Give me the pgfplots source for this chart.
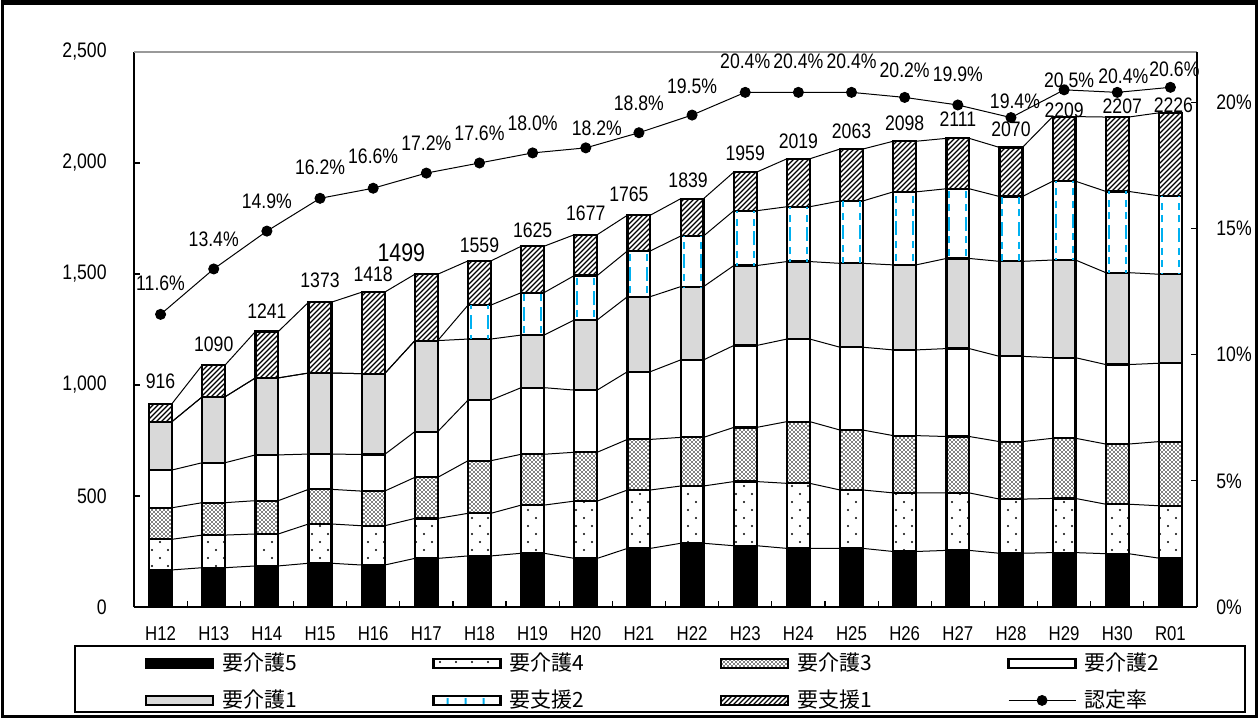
\documentclass[border=0pt]{standalone}
\usepackage{fontspec}
\setmainfont{Liberation Sans}[FakeStretch=0.84]
\newfontfamily\cjk{Noto Sans CJK JP}
\usepackage{pgfplots}
\usepackage{pgfplotstable}
\pgfplotsset{compat=1.18}
\usetikzlibrary{patterns}
\definecolor{skyb}{RGB}{0,176,240}
\definecolor{lgray}{RGB}{217,217,217}

\pgfdeclarepatternformonly{sparsedots}{\pgfpoint{-1pt}{-1pt}}{\pgfpoint{7pt}{7pt}}{\pgfpoint{8pt}{8pt}}{%
  \pgfpathcircle{\pgfpointorigin}{0.55pt}\pgfpathcircle{\pgfpoint{4pt}{4pt}}{0.55pt}\pgfusepath{fill}}
\pgfdeclarepatternformonly{densedots}{\pgfpoint{-0.5pt}{-0.5pt}}{\pgfpoint{1.5pt}{1.5pt}}{\pgfpoint{2pt}{2pt}}{%
  \pgfpathcircle{\pgfpointorigin}{0.46pt}\pgfpathcircle{\pgfpoint{1pt}{1pt}}{0.46pt}\pgfusepath{fill}}
\pgfdeclarepatternformonly{hatch}{\pgfpoint{-0.1pt}{-0.1pt}}{\pgfpoint{2.6pt}{2.6pt}}{\pgfpoint{2.5pt}{2.5pt}}{%
  \pgfsetlinewidth{0.65pt}\pgfpathmoveto{\pgfpoint{-0.1pt}{-0.1pt}}\pgfpathlineto{\pgfpoint{2.6pt}{2.6pt}}\pgfusepath{stroke}}
\pgfdeclarepatterninherentlycolored{vdash}{\pgfpoint{0pt}{0pt}}{\pgfpoint{8.858pt}{7pt}}{\pgfpoint{8.858pt}{7pt}}{%
  \pgfsetfillcolor{skyb}\pgfpathrectangle{\pgfpoint{1.8pt}{0pt}}{\pgfpoint{1pt}{3.6pt}}\pgfusepath{fill}}

\tikzset{
  s5/.style={draw=black, line width=1.1pt, fill=black},
  s4/.style={draw=black, line width=1.1pt, preaction={fill=white}, pattern=sparsedots},
  s3/.style={draw=black, line width=1.1pt, preaction={fill=white}, pattern=densedots},
  s2/.style={draw=black, line width=1.1pt, fill=white},
  s1/.style={draw=black, line width=1.1pt, fill=lgray},
  sS2/.style={draw=black, line width=1.1pt, fill=white},
  sS2leg/.style={draw=black, line width=1.1pt, preaction={fill=white}, pattern=vdash},
  sS1/.style={draw=black, line width=1.1pt, preaction={fill=white}, pattern=hatch},
}
\pgfplotsset{
  leg5/.style={legend image code/.code={\draw[s5] (0pt,1.3pt) rectangle (33.5pt,5.8pt);}},
  leg4/.style={legend image code/.code={\draw[s4] (0pt,1.3pt) rectangle (33.5pt,5.8pt);}},
  leg3/.style={legend image code/.code={\draw[s3] (0pt,1.3pt) rectangle (33.5pt,5.8pt);}},
  leg2/.style={legend image code/.code={\draw[s2] (0pt,1.3pt) rectangle (33.5pt,5.8pt);}},
  leg1/.style={legend image code/.code={\draw[s1] (0pt,1.3pt) rectangle (33.5pt,5.8pt);}},
  legS2/.style={legend image code/.code={\draw[sS2leg] (0pt,1.3pt) rectangle (33.5pt,5.8pt);}},
  legS1/.style={legend image code/.code={\draw[sS1] (0pt,1.3pt) rectangle (33.5pt,5.8pt);}},
  legR/.style={legend image code/.code={\draw[black, line width=0.5pt] (0pt,3.6pt) -- (33.5pt,3.6pt); \fill[black] (16.75pt,3.6pt) circle (2.5pt);}},
}

% cumulative heights (bottom up): L1 要介護5, L2 +要介護4, L3 +要介護3, L4 +要介護2, L5 +要介護1, L6 +要支援2, L7 total
% each category twice (left / right bar edge) for the series lines
\pgfplotstableread{
x off L1 L2 L3 L4 L5 L6 L7
0 -0.215 167 305 447 617 835 835 916
0 0.215 167 305 447 617 835 835 916
1 -0.215 177 324 470 650 947 947 1090
1 0.215 177 324 470 650 947 947 1090
2 -0.215 185 329 479 685 1032 1032 1241
2 0.215 185 329 479 685 1032 1032 1241
3 -0.215 197 374 530 689 1054 1054 1373
3 0.215 197 374 530 689 1054 1054 1373
4 -0.215 189 366 522 687 1051 1051 1418
4 0.215 189 366 522 687 1051 1051 1418
5 -0.215 219 399 584 790 1200 1200 1499
5 0.215 219 399 584 790 1200 1200 1499
6 -0.215 230 422 659 932 1207 1360 1559
6 0.215 230 422 659 932 1207 1360 1559
7 -0.215 242 459 688 988 1225 1416 1625
7 0.215 242 459 688 988 1225 1416 1625
8 -0.215 219 477 697 977 1293 1493 1677
8 0.215 219 477 697 977 1293 1493 1677
9 -0.215 264 527 755 1060 1398 1604 1765
9 0.215 264 527 755 1060 1398 1604 1765
10 -0.215 287 545 764 1113 1443 1671 1839
10 0.215 287 545 764 1113 1443 1671 1839
11 -0.215 276 565 809 1178 1538 1785 1959
11 0.215 276 565 809 1178 1538 1785 1959
12 -0.215 264 557 835 1207 1556 1803 2019
12 0.215 264 557 835 1207 1556 1803 2019
13 -0.215 264 527 797 1170 1548 1829 2063
13 0.215 264 527 797 1170 1548 1829 2063
14 -0.215 250 514 772 1158 1541 1870 2098
14 0.215 250 514 772 1158 1541 1870 2098
15 -0.215 255 514 768 1164 1570 1884 2111
15 0.215 255 514 768 1164 1570 1884 2111
16 -0.215 242 486 745 1129 1557 1849 2070
16 0.215 242 486 745 1129 1557 1849 2070
17 -0.215 245 489 760 1123 1563 1918 2209
17 0.215 245 489 760 1123 1563 1918 2209
18 -0.215 240 463 734 1092 1506 1872 2207
18 0.215 240 463 734 1092 1506 1872 2207
19 -0.215 220 456 745 1098 1499 1852 2226
19 0.215 220 456 745 1098 1499 1852 2226
}\cum

% total labels: value, label offset above the bar top (pt) and sideways (pt)
\pgfplotstableread{
x total tdy tdx
0 916 11 0
1 1090 10.5 0
2 1241 10 0
3 1373 11 0
4 1418 9 0
5 1499 11 -12.5
6 1559 8 0
7 1625 8 0
8 1677 10.5 0
9 1765 10.5 -5
10 1839 9 -2
11 1959 9.5 0
12 2019 9 0
13 2063 9 0
14 2098 9 0
15 2111 9.5 0
16 2070 9 0
17 2209 3 0
18 2207 5.5 2.5
19 2226 4 1.5
}\tot

\pgfplotstableread{
x rate rdy rdx
0 11.6 15.5 0
1 13.4 15 0
2 14.9 15 0
3 16.2 15.5 0
4 16.6 16 0
5 17.2 15 0
6 17.6 15 0
7 18.0 15 0
8 18.2 10 5.5
9 18.8 14.5 0
10 19.5 14.5 0
11 20.4 15.5 0
12 20.4 15.5 0
13 20.4 15.5 0
14 20.2 13.5 0
15 19.9 15.5 0
16 19.4 8 2
17 20.5 5 2.5
18 20.4 8 3
19 20.6 9 2
}\rate

\begin{document}
\begin{tikzpicture}
\useasboundingbox (0,0) rectangle (629.5pt,359pt);
\fill[white] (0,0) rectangle (629.5pt,359pt);
\draw[line width=1.5pt] (1pt,0.75pt) rectangle (628.25pt,358pt);
\draw[line width=2.5pt] (0.5pt,357.9pt) -- (629pt,357.9pt);
\draw[line width=0.6pt] (37.5pt,3pt) rectangle (622.5pt,36pt);

\begin{axis}[
  at={(67pt,55.5pt)}, anchor=south west,
  scale only axis, width=531.5pt, height=277.5pt,
  xmin=-0.5, xmax=19.5, ymin=0, ymax=2500,
  axis x line*=bottom, axis y line*=left,
  axis line style={-, line width=1pt, black},
  tick align=inside,
  xtick={0,...,19},
  xticklabels={H12,H13,H14,H15,H16,H17,H18,H19,H20,H21,H22,H23,H24,H25,H26,H27,H28,H29,H30,R01},
  major x tick style={draw=none},
  minor xtick={-0.5,0.5,...,19.5},
  minor tick length=3pt,
  major tick length=3pt,
  ytick={0,500,...,2500},
  scaled y ticks=false,
  tick style={black, line width=0.6pt},
  yticklabel style={inner sep=0pt, anchor=east, xshift=-13.5pt, font=\fontsize{10.5}{12}\selectfont},
  xticklabel style={inner sep=0pt, anchor=center, yshift=-13.5pt, font=\fontsize{10}{12}\selectfont},
  /pgf/number format/assume math mode=true,
  bar width=0.43,
  clip=false,
  legend columns=4,
  legend cell align=left,
  legend style={at={(axis description cs:0.01035,-0.0876)}, anchor=north west,
    draw=none, fill=none, inner sep=0pt, outer sep=0pt, column sep=0pt, row sep=9.5pt,
    font=\cjk\fontsize{10.5}{12}\selectfont,
    nodes={inner sep=0pt, text height=7.5pt, text depth=1.5pt, anchor=base west}},
]
% series lines
\pgfplotsinvokeforeach{1,...,7}{
  \addplot[forget plot, sharp plot, black, line width=0.5pt, mark=none]
    table[x expr=\thisrow{x}+\thisrow{off}, y=L#1]{\cum};
}
% bars (drawn tallest first, each covering the ones below)
\addplot[forget plot, ybar, bar shift=0pt, sS1, each nth point=2] table[x=x, y=L7]{\cum};
\addplot[forget plot, ybar, bar shift=0pt, sS2, each nth point=2] table[x=x, y=L6]{\cum};
\addplot[forget plot, ybar, bar shift=0pt, s1, each nth point=2] table[x=x, y=L5]{\cum};
\addplot[forget plot, ybar, bar shift=0pt, s2, each nth point=2] table[x=x, y=L4]{\cum};
\addplot[forget plot, ybar, bar shift=0pt, s3, each nth point=2] table[x=x, y=L3]{\cum};
\addplot[forget plot, ybar, bar shift=0pt, s4, each nth point=2] table[x=x, y=L2]{\cum};
\addplot[forget plot, ybar, bar shift=0pt, s5, each nth point=2] table[x=x, y=L1]{\cum};
% blue dashed lines inside the 要支援2 segment
\addplot[forget plot, draw=none, mark=none, each nth point=2,
  error bars/.cd, y dir=both, y explicit, error mark=none,
  error bar style={draw=skyb, line width=1pt, dash pattern=on 3.5pt off 2.8pt}]
  table[x expr=\thisrow{x}-0.16, y expr=(\thisrow{L5}+\thisrow{L6})/2, y error expr=(\thisrow{L6}-\thisrow{L5})/2]{\cum};
\addplot[forget plot, draw=none, mark=none, each nth point=2,
  error bars/.cd, y dir=both, y explicit, error mark=none,
  error bar style={draw=skyb, line width=1pt, dash pattern=on 3.5pt off 2.8pt}]
  table[x expr=\thisrow{x}+0.16, y expr=(\thisrow{L5}+\thisrow{L6})/2, y error expr=(\thisrow{L6}-\thisrow{L5})/2]{\cum};
% total labels
\addplot[forget plot, draw=none, mark=none, point meta=explicit symbolic,
  skip coords between index={5}{6},
  nodes near coords,
  every node near coord/.append style={anchor=center, inner sep=0pt, text=black, font=\fontsize{10.5}{12}\selectfont}]
  table[x expr=\thisrow{x}+\thisrow{tdx}/26.575, y expr=\thisrow{total}+\thisrow{tdy}*9.009, meta=total]{\tot};
\addplot[forget plot, draw=none, mark=none, point meta=explicit symbolic,
  skip coords between index={0}{5}, skip coords between index={6}{20},
  nodes near coords,
  every node near coord/.append style={anchor=center, inner sep=0pt, text=black, font=\fontsize{12.75}{14}\selectfont}]
  table[x expr=\thisrow{x}+\thisrow{tdx}/26.575, y expr=\thisrow{total}+\thisrow{tdy}*9.009, meta=total]{\tot};

\addlegendimage{leg5}
\addlegendimage{leg4}
\addlegendimage{leg3}
\addlegendimage{leg2}
\addlegendimage{leg1}
\addlegendimage{legS2}
\addlegendimage{legS1}
\addlegendimage{legR}
\legend{\makebox[109.15pt][l]{\hspace{4pt}要介護5},\makebox[109.15pt][l]{\hspace{4pt}要介護4},\makebox[109.15pt][l]{\hspace{4pt}要介護3},\makebox[109.15pt][l]{\hspace{4pt}要介護2},\makebox[109.15pt][l]{\hspace{4pt}要介護1},\makebox[109.15pt][l]{\hspace{4pt}要支援2},\makebox[109.15pt][l]{\hspace{4pt}要支援1},\makebox[60pt][l]{\hspace{4pt}認定率}}

\draw[gray!80, line width=0.8pt] (rel axis cs:0,1) -- (rel axis cs:1,1);
\end{axis}

\begin{axis}[
  at={(67pt,55.5pt)}, anchor=south west,
  scale only axis, width=531.5pt, height=277.5pt,
  xmin=-0.5, xmax=19.5, ymin=0, ymax=22,
  axis x line=none, axis y line*=right,
  axis line style={-, line width=1pt, black},
  tick align=inside, major tick length=3pt,
  tick style={black, line width=0.6pt},
  ytick={0,5,...,20},
  yticklabel={\pgfmathprintnumber{\tick}\%},
  yticklabel style={inner sep=0pt, anchor=west, xshift=9.5pt, font=\fontsize{10.5}{12}\selectfont},
  /pgf/number format/assume math mode=true,
  clip=false,
]
\addplot[black, line width=0.5pt, mark=*, mark size=2.5pt, mark options={solid, fill=black}]
  table[x=x, y=rate]{\rate};
\addplot[draw=none, mark=none, point meta=explicit,
  nodes near coords={\pgfmathprintnumber[fixed,fixed zerofill,precision=1]{\pgfplotspointmeta}\%},
  every node near coord/.append style={anchor=center, inner sep=0pt, text=black, font=\fontsize{10.5}{12}\selectfont}]
  table[x expr=\thisrow{x}+\thisrow{rdx}/26.575, y expr=\thisrow{rate}+\thisrow{rdy}*0.07928, meta=rate]{\rate};
\end{axis}
\end{tikzpicture}
\end{document}
